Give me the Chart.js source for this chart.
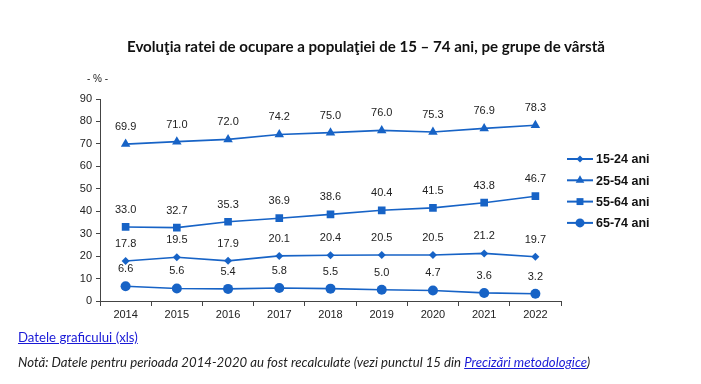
<!DOCTYPE html>
<html>
<head>
<meta charset="utf-8">
<script src="https://cdn.jsdelivr.net/npm/chart.js@4"></script>
<style>
  html, body { margin: 0; padding: 0; background: #fff; }
  #wrap { position: relative; width: 701px; height: 384px; }
  #chart { position: absolute; left: 0; top: 0; }
  .title { position: absolute; left: 0; width: 732px; top: 37px; text-align: center;
    font: bold 15.1px Lato, 'Open Sans', sans-serif; color: #111; }
  .unit { position: absolute; left: 87px; top: 73px; font: 10px 'Liberation Sans', Arial, sans-serif; color: #222; }
  .link { position: absolute; left: 18px; top: 329px; font: 13.2px Lato, sans-serif; color: #1a1ad6; text-decoration: underline; }
  .note { position: absolute; left: 18px; top: 354px; font: italic 13.2px Lato, sans-serif; color: #222; }
  .note a { color: #1a1ad6; text-decoration: underline; }
</style>
</head>
<body>
<div id="wrap">
  <canvas id="chart" width="701" height="384"></canvas>
  <div class="title">Evoluţia ratei de ocupare a populaţiei de 15 – 74 ani, pe grupe de vârstă</div>
  <div class="unit">- % -</div>
  <div class="link">Datele graficului (xls)</div>
  <div class="note">Notă: Datele pentru perioada 2014-2020 au fost recalculate (vezi punctul 15 din <a>Precizări metodologice</a>)</div>
</div>
<script>
const years = ['2014', '2015', '2016', '2017', '2018', '2019', '2020', '2021', '2022'];
const age15to24 = [17.8, 19.5, 17.9, 20.1, 20.4, 20.5, 20.5, 21.2, 19.7];
const age25to54 = [69.9, 71.0, 72.0, 74.2, 75.0, 76.0, 75.3, 76.9, 78.3];
const age55to64 = [33.0, 32.7, 35.3, 36.9, 38.6, 40.4, 41.5, 43.8, 46.7];
const age65to74 = [6.6, 5.6, 5.4, 5.8, 5.5, 5.0, 4.7, 3.6, 3.2];
const yTicks = [0, 10, 20, 30, 40, 50, 60, 70, 80, 90];

const blue = '#1763c6';

function series(label, data, style, radius) {
  return {
    label: label,
    data: data,
    borderColor: blue,
    backgroundColor: blue,
    borderWidth: 1.6,
    pointStyle: style,
    pointRadius: radius,
    pointHoverRadius: radius,
    pointBorderWidth: 0,
    tension: 0
  };
}

// value labels above each point
const valueLabels = {
  id: 'valueLabels',
  afterDatasetsDraw(chart) {
    const ctx = chart.ctx;
    ctx.save();
    ctx.font = '11px "Liberation Sans", Arial, sans-serif';
    ctx.fillStyle = '#222';
    ctx.textAlign = 'center';
    ctx.textBaseline = 'middle';
    chart.data.datasets.forEach((ds, i) => {
      chart.getDatasetMeta(i).data.forEach((pt, j) => {
        ctx.fillText(ds.data[j].toFixed(1), pt.x, pt.y - 17);
      });
    });
    ctx.restore();
  }
};

// legend with line + marker, to the right of the plot
const lineLegend = {
  id: 'lineLegend',
  afterDraw(chart) {
    const ctx = chart.ctx;
    const x0 = chart.chartArea.right + 6;
    let y = 159;
    ctx.save();
    chart.data.datasets.forEach((ds) => {
      ctx.strokeStyle = blue;
      ctx.lineWidth = 2;
      ctx.beginPath();
      ctx.moveTo(x0, y);
      ctx.lineTo(x0 + 26, y);
      ctx.stroke();
      ctx.fillStyle = blue;
      Chart.helpers.drawPoint(ctx, {
        pointStyle: ds.pointStyle, radius: ds.pointRadius - 0.5, borderWidth: 0, rotation: 0
      }, x0 + 13, y);
      ctx.fillStyle = '#111';
      ctx.font = 'bold 12.5px "Liberation Sans", Arial, sans-serif';
      ctx.textAlign = 'left';
      ctx.textBaseline = 'middle';
      ctx.fillText(ds.label, x0 + 29, y + 1);
      y += 21.3;
    });
    ctx.restore();
  }
};

new Chart(document.getElementById('chart'), {
  type: 'line',
  data: {
    labels: years,
    datasets: [
      series('15-24 ani', age15to24, 'rectRot', 4),
      series('25-54 ani', age25to54, 'triangle', 5.5),
      series('55-64 ani', age55to64, 'rect', 5.4),
      series('65-74 ani', age65to74, 'circle', 5)
    ]
  },
  options: {
    responsive: false,
    animation: false,
    layout: { padding: { left: 60, right: 140, top: 99, bottom: 0 } },
    plugins: {
      legend: { display: false },
      title: { display: false },
      tooltip: { enabled: false }
    },
    scales: {
      x: {
        offset: true,
        grid: { display: true, drawOnChartArea: false, offset: true, tickLength: 5, color: '#444' },
        border: { color: '#444', width: 1 },
        ticks: { color: '#222', font: { size: 11, family: '"Liberation Sans", Arial, sans-serif' }, padding: 2 },
        afterFit(scale) { scale.height = 83; }
      },
      y: {
        min: 0,
        max: 90,
        afterBuildTicks(scale) { scale.ticks = yTicks.map(v => ({ value: v })); },
        grid: { display: true, drawOnChartArea: false, tickLength: 4, color: '#444' },
        border: { color: '#444', width: 1 },
        ticks: { color: '#222', font: { size: 11, family: '"Liberation Sans", Arial, sans-serif' }, padding: 4 },
        afterFit(scale) { scale.width = 40; }
      }
    }
  },
  plugins: [valueLabels, lineLegend]
});
</script>
</body>
</html>
